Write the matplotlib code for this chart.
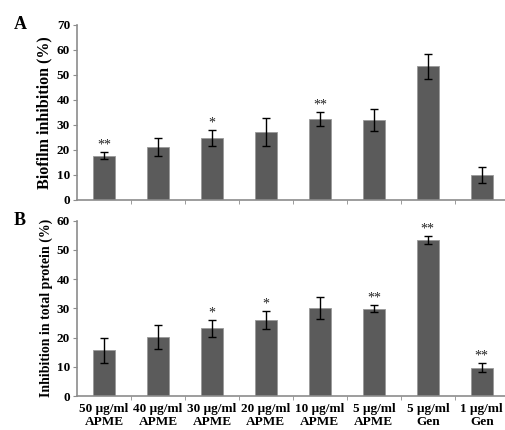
import matplotlib.pyplot as plt
import numpy as np

# treatments (x categories)
groups = ["50 \u03bcg/ml\nAPME", "40 \u03bcg/ml\nAPME", "30 \u03bcg/ml\nAPME", "20 \u03bcg/ml\nAPME",
          "10 \u03bcg/ml\nAPME", "5 \u03bcg/ml\nAPME", "5 \u03bcg/ml\nGen", "1 \u03bcg/ml\nGen"]

# panel A: biofilm inhibition
biofilm = [17.7, 21.2, 24.8, 27.3, 32.4, 32.0, 53.4, 10.0]
biofilm_err = [1.4, 3.6, 3.1, 5.6, 2.9, 4.3, 4.9, 3.2]
biofilm_sig = ["**", "", "*", "", "**", "", "", ""]

# panel B: inhibition in total protein
protein = [15.7, 20.1, 23.1, 25.9, 30.1, 29.9, 53.4, 9.7]
protein_err = [4.3, 4.1, 2.9, 3.1, 3.6, 1.2, 1.4, 1.5]
protein_sig = ["", "", "*", "*", "", "**", "**", "**"]

plt.rcParams['font.family'] = ['Liberation Serif', 'DejaVu Serif']
plt.rcParams['font.weight'] = 'bold'

bar_col = '#5b5b5b'
axis_col = '#8c8c8c'

fig = plt.figure(figsize=(5.05, 4.3), dpi=100)
axA = fig.add_axes([0.1525, 0.535, 0.8475, 0.407])
axB = fig.add_axes([0.1525, 0.079, 0.8475, 0.408])

x = np.arange(len(groups))


def draw(ax, vals, errs, sig, ymax, ylabel, ylabel_size, letter, show_labels):
    ax.bar(x, vals, width=0.41, color=bar_col, edgecolor='#9a9a9a', linewidth=0.6, zorder=2)
    ax.errorbar(x, vals, yerr=errs, fmt='none', ecolor='black', elinewidth=1.0,
                capsize=2.6, capthick=1.0, zorder=3)
    for xi, v, e, s in zip(x, vals, errs, sig):
        if s:
            ax.text(xi, v + e + ymax * 0.003, s, ha='center', va='bottom',
                    fontsize=10, color='#222222', fontweight='normal')
    ax.set_xlim(-0.5, 7.43)
    ax.set_ylim(0, ymax)
    ax.set_yticks(np.arange(0, ymax + 1, 10))
    ax.set_xticks(x)
    ax.set_xticks(np.arange(0.5, 7.5, 1), minor=True)
    ax.tick_params(axis='x', which='major', length=0, pad=5)
    ax.tick_params(axis='x', which='minor', length=3, color=axis_col, direction='out')
    ax.tick_params(axis='y', length=3, color=axis_col, labelsize=9.5, pad=2)
    if show_labels:
        ax.set_xticklabels(groups, fontsize=9.5, fontweight='bold', linespacing=1.15)
    else:
        ax.set_xticklabels([])
    for sp in ['top', 'right']:
        ax.spines[sp].set_visible(False)
    for sp in ['left', 'bottom']:
        ax.spines[sp].set_color(axis_col)
        ax.spines[sp].set_linewidth(1.2)
    ax.set_ylabel(ylabel, fontsize=ylabel_size, fontweight='bold', labelpad=3)
    ax.text(-0.148, 1.0, letter, transform=ax.transAxes, fontsize=13, fontweight='bold',
            ha='left', va='center')


draw(axA, biofilm, biofilm_err, biofilm_sig, 70, 'Biofilm inhibition (%)', 11.5, 'A', False)
draw(axB, protein, protein_err, protein_sig, 60, 'Inhibition in total protein (%)', 10, 'B', True)

fig.savefig('out.png', dpi=100)
